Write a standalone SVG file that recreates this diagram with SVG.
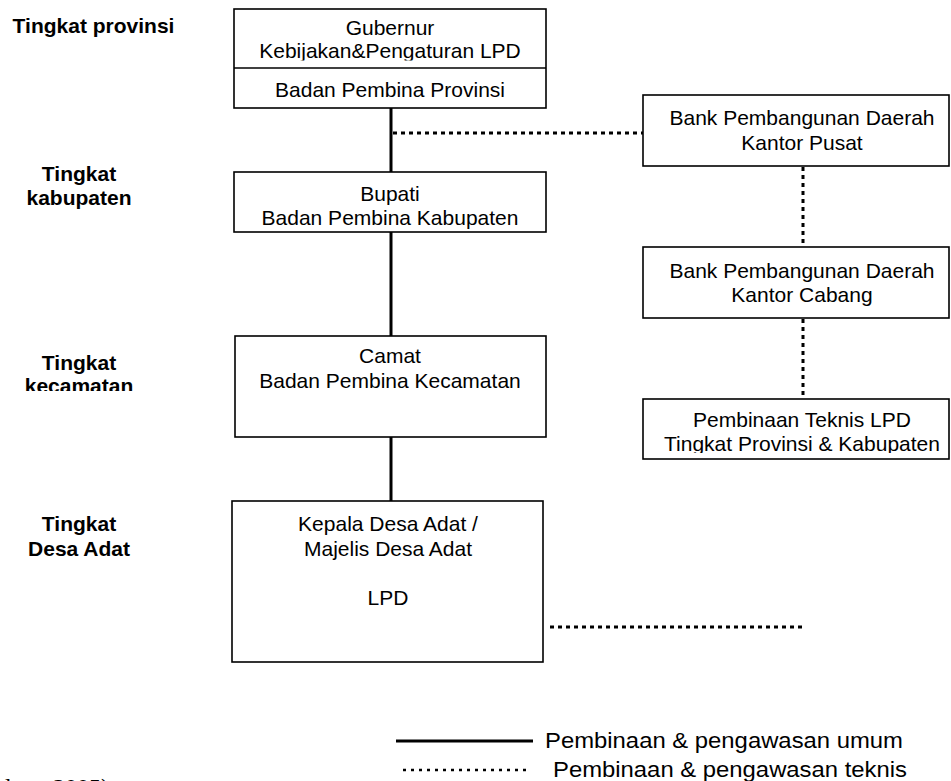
<svg xmlns="http://www.w3.org/2000/svg" width="951" height="781" viewBox="0 0 951 781">
<style>
  .box { fill: #ffffff; stroke: #000000; stroke-width: 1.6; }
  .t { font-family: "Liberation Sans", Arial, sans-serif; font-size: 21px; fill: #000000; text-anchor: middle; }
  .lbl { font-family: "Liberation Sans", Arial, sans-serif; font-size: 21px; font-weight: bold; fill: #000000; text-anchor: middle; }
  .leg { font-family: "Liberation Sans", Arial, sans-serif; font-size: 22px; fill: #000000; }
  .solid { stroke: #000000; stroke-width: 3; fill: none; }
  .dot { stroke: #000000; stroke-width: 3; stroke-dasharray: 4 4; fill: none; }
  .dotleg { stroke: #000000; stroke-width: 2.5; stroke-dasharray: 3 5; fill: none; }
</style>
<defs>
  <clipPath id="clipGub"><rect x="234" y="9" width="312" height="51.5"/></clipPath>
  <clipPath id="clipBup"><rect x="234" y="172" width="312" height="57.5"/></clipPath>
  <clipPath id="clipKec"><rect x="0" y="340" width="230" height="51"/></clipPath>
  <clipPath id="clipTek"><rect x="643" y="399" width="308" height="54"/></clipPath>
</defs>
<rect width="951" height="781" fill="#ffffff"/>

<g id="labels">
  <text class="lbl" x="93.5" y="33">Tingkat provinsi</text>
  <text class="lbl" x="79" y="181">Tingkat</text>
  <text class="lbl" x="79" y="205">kabupaten</text>
  <text class="lbl" x="79" y="370">Tingkat</text>
  <g clip-path="url(#clipKec)"><text class="lbl" x="79" y="393">kecamatan</text></g>
  <text class="lbl" x="79" y="531">Tingkat</text>
  <text class="lbl" x="79" y="556">Desa Adat</text>
</g>

<g id="connectors">
  <line class="solid" x1="391" y1="108" x2="391" y2="172"/>
  <line class="solid" x1="391" y1="232" x2="391" y2="336"/>
  <line class="solid" x1="391" y1="437" x2="391" y2="501"/>
  <line class="dot" x1="393" y1="133" x2="643" y2="133"/>
  <line class="dot" x1="803" y1="167" x2="803" y2="247"/>
  <line class="dot" x1="803" y1="319" x2="803" y2="399"/>
  <line class="dot" x1="550" y1="627" x2="803" y2="627"/>
</g>

<g id="gubernur">
  <rect class="box" x="234" y="9" width="312" height="99"/>
  <line x1="234" y1="68" x2="546" y2="68" stroke="#000" stroke-width="1.6"/>
  <text class="t" x="390" y="35">Gubernur</text>
  <g clip-path="url(#clipGub)"><text class="t" x="390" y="58">Kebijakan&amp;Pengaturan LPD</text></g>
  <text class="t" x="390" y="97">Badan Pembina Provinsi</text>
</g>

<g id="bupati">
  <rect class="box" x="234" y="172" width="312" height="60"/>
  <text class="t" x="390" y="201">Bupati</text>
  <g clip-path="url(#clipBup)"><text class="t" x="390" y="225">Badan Pembina Kabupaten</text></g>
</g>

<g id="camat">
  <rect class="box" x="235" y="336" width="311" height="101"/>
  <text class="t" x="390" y="363">Camat</text>
  <text class="t" x="390" y="388">Badan Pembina Kecamatan</text>
</g>

<g id="kepala">
  <rect class="box" x="232" y="501" width="311" height="161"/>
  <text class="t" x="388" y="531">Kepala Desa Adat /</text>
  <text class="t" x="388" y="556">Majelis Desa Adat</text>
  <text class="t" x="388" y="605">LPD</text>
</g>

<g id="bpd-pusat">
  <rect class="box" x="643" y="95" width="306" height="71"/>
  <text class="t" x="802" y="125">Bank Pembangunan Daerah</text>
  <text class="t" x="802" y="150">Kantor Pusat</text>
</g>

<g id="bpd-cabang">
  <rect class="box" x="643" y="247" width="306" height="71"/>
  <text class="t" x="802" y="278">Bank Pembangunan Daerah</text>
  <text class="t" x="802" y="302">Kantor Cabang</text>
</g>

<g id="pembinaan-teknis">
  <rect class="box" x="643" y="399" width="306" height="60"/>
  <text class="t" x="802" y="427">Pembinaan Teknis LPD</text>
  <g clip-path="url(#clipTek)"><text class="t" x="802" y="451">Tingkat Provinsi &amp; Kabupaten</text></g>
</g>

<g id="legend">
  <line class="solid" x1="396" y1="741" x2="533" y2="741"/>
  <text class="leg" x="545" y="748" textLength="358" lengthAdjust="spacingAndGlyphs">Pembinaan &amp; pengawasan umum</text>
  <line class="dotleg" x1="403" y1="770" x2="530" y2="770"/>
  <text class="leg" x="553" y="777" textLength="354" lengthAdjust="spacingAndGlyphs">Pembinaan &amp; pengawasan teknis</text>
</g>

<text x="5" y="795" font-family="'Liberation Serif', 'Times New Roman', serif" font-size="24">lam, 2005)</text>
</svg>
